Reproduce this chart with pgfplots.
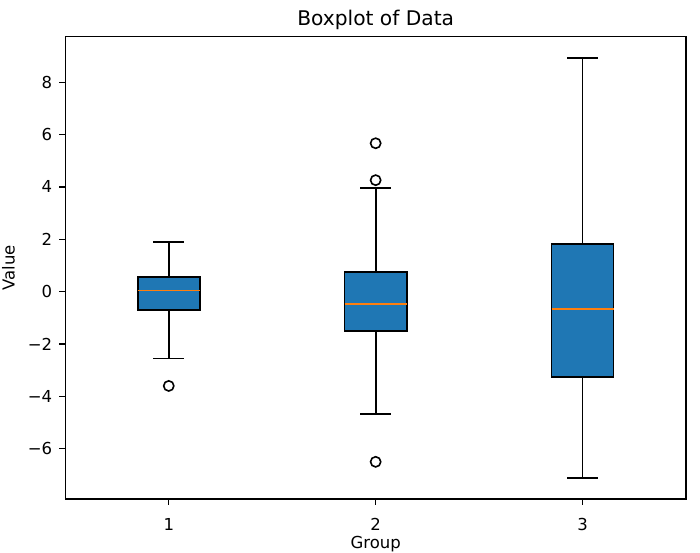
\documentclass[border=0pt]{standalone}
\usepackage{fontspec}
\setmainfont{DejaVu Sans}
\usepackage{pgfplots}
\pgfplotsset{compat=1.18}
\usepgfplotslibrary{statistics}
\definecolor{mplblue}{HTML}{1F77B4}
\definecolor{mplorange}{HTML}{FF7F0E}
\pgfplotsset{
  mplbox/.style={
    solid, draw=black, line width=1.7pt,
    mark=o, mark size=5.1pt, mark options={draw=black, fill=white, line width=1.6pt, solid},
    boxplot/draw direction=y,
    boxplot/box extend=0.3, boxplot/whisker extend=0.15,
    boxplot/every box/.style={draw=black, fill=mplblue, line width=1.7pt},
    boxplot/every median/.style={draw=mplorange, line width=1.7pt},
    boxplot/every whisker/.style={draw=black, line width=1.7pt},
  }
}
\begin{document}
\begin{tikzpicture}
\begin{axis}[
  scale only axis, width=620.7pt, height=462.3pt,
  xmin=0.5, xmax=3.5, ymin=-7.92, ymax=9.74,
  xtick={1,2,3}, xticklabels={1,2,3},
  ytick={-6,-4,-2,0,2,4,6,8},
  yticklabels={−6,−4,−2,0,2,4,6,8},
  tick pos=left, tick align=outside,
  major tick length=5.9pt,
  every tick/.style={black, line width=1.36pt},
  axis line style={line width=1.36pt},
  tick label style={font=\fontsize{16.5}{19}\selectfont},
  xticklabel style={anchor=base, inner sep=0pt, yshift=-26pt},
  yticklabel style={anchor=east, inner sep=0pt, xshift=-7pt},
  xlabel={\fontsize{16.5}{19}\selectfont Group},
  ylabel={\fontsize{16.5}{19}\selectfont Value},
  title={\fontsize{20.2}{23}\selectfont Boxplot of Data},
  title style={at={(axis description cs:0.5,1)}, anchor=base, inner sep=0pt, yshift=5pt},
  xlabel style={at={(axis description cs:0.5,0)}, anchor=base, inner sep=0pt, yshift=-49pt},
  ylabel style={at={(axis description cs:-0.0818,0.5)}, anchor=base, inner sep=0pt},
  clip=false,
]
\addplot[mplbox,
  boxplot prepared={draw position=1, lower whisker=-2.55, lower quartile=-0.70, median=0.04, upper quartile=0.55, upper whisker=1.91}]
  table[row sep=\\, y index=0]{-3.60\\};
\addplot[mplbox,
  boxplot prepared={draw position=2, lower whisker=-4.68, lower quartile=-1.49, median=-0.48, upper quartile=0.75, upper whisker=3.96}]
  table[row sep=\\, y index=0]{5.67\\ 4.26\\ -6.50\\};
\addplot[mplbox,
  boxplot prepared={draw position=3, lower whisker=-7.11, lower quartile=-3.25, median=-0.67, upper quartile=1.81, upper whisker=8.92}]
  coordinates {};
\path (current axis.south west) ++(-65.3pt,-53pt) coordinate (bbA);
\path (current axis.north east) ++(14pt,36.7pt) coordinate (bbB);
\end{axis}
\path (bbA) rectangle (bbB);
\end{tikzpicture}
\end{document}
